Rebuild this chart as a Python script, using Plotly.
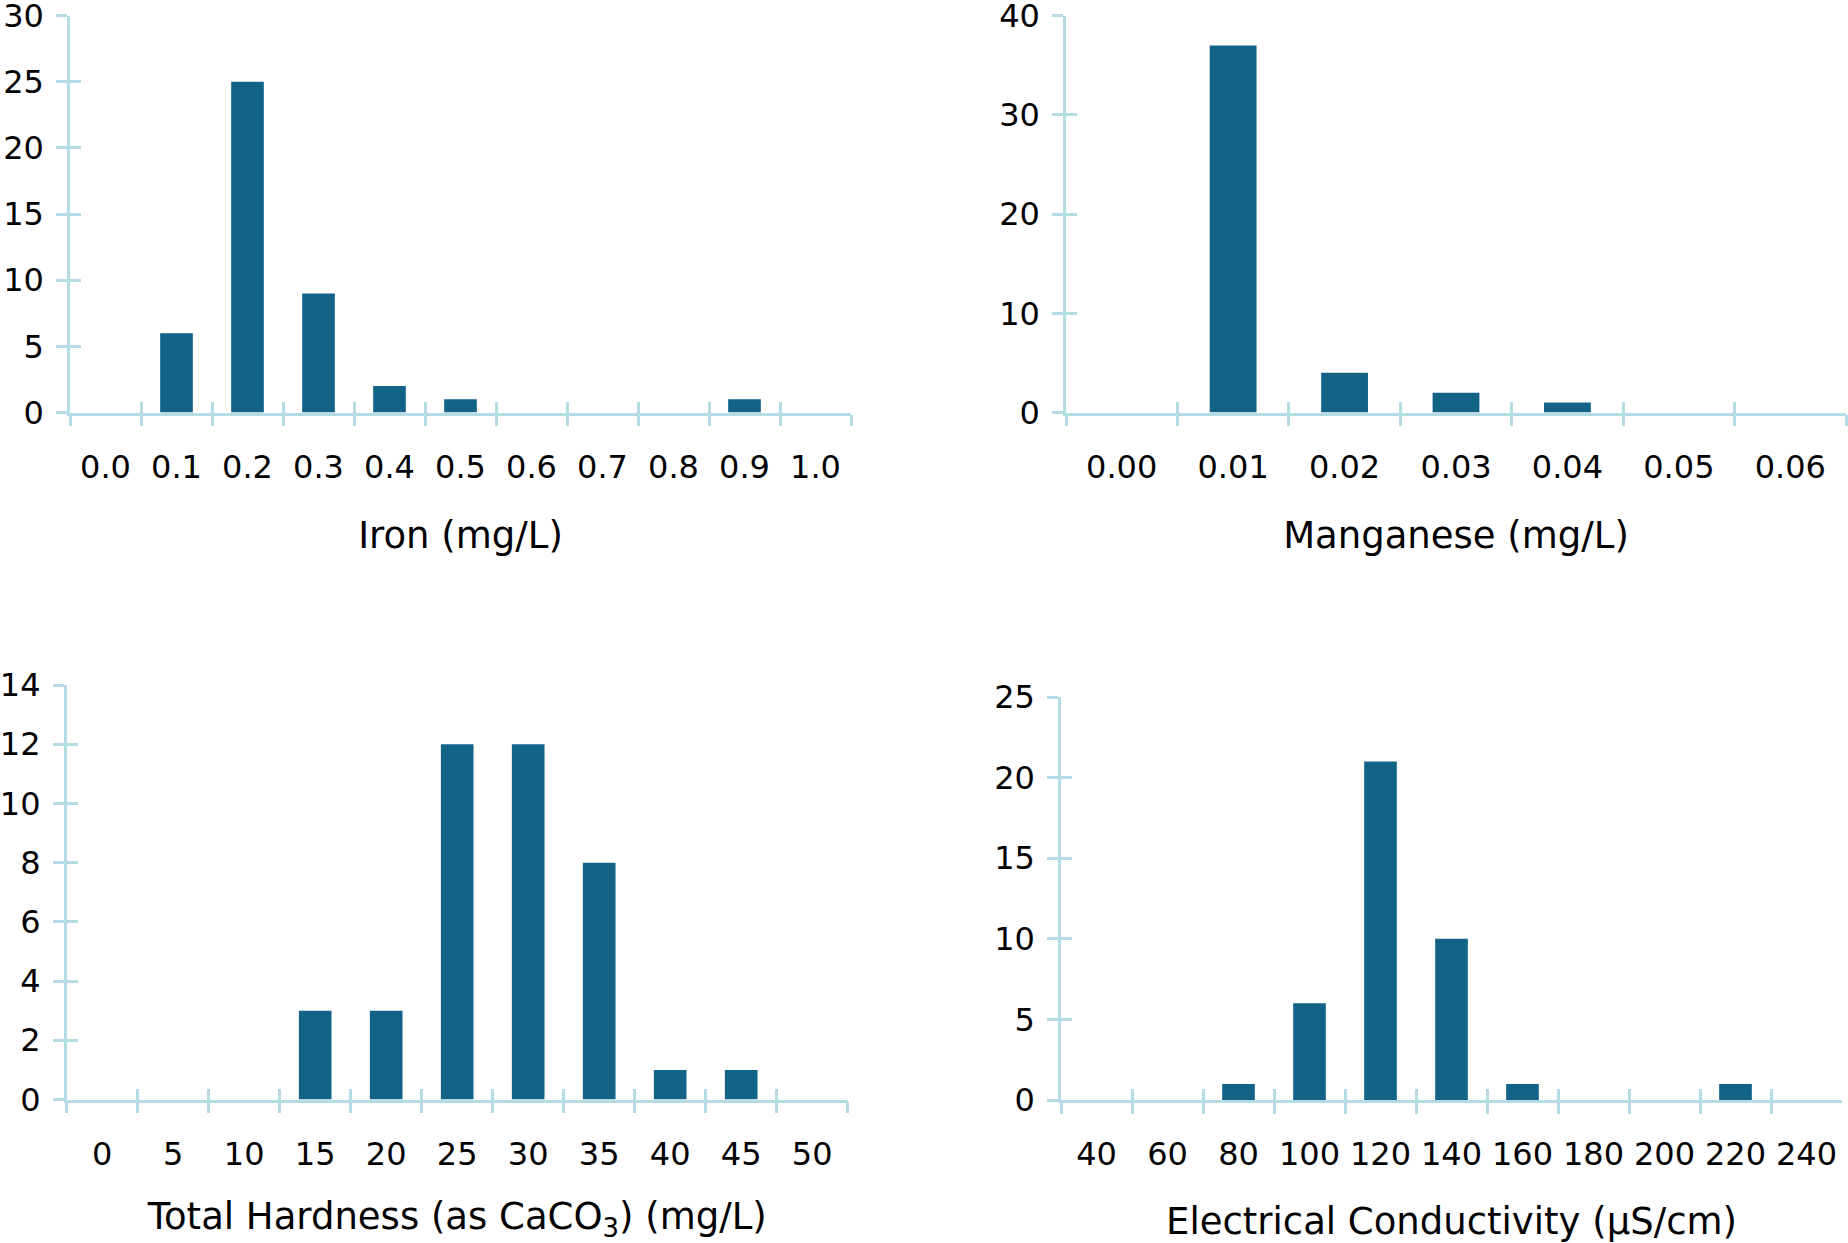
import plotly.graph_objects as go

W, H = 1848, 1243

# ---------------- data ----------------
iron_cats = ["0.0", "0.1", "0.2", "0.3", "0.4", "0.5", "0.6", "0.7", "0.8", "0.9", "1.0"]
iron_counts = [0, 6, 25, 9, 2, 1, 0, 0, 0, 1, 0]
iron_yticks = [0, 5, 10, 15, 20, 25, 30]

mn_cats = ["0.00", "0.01", "0.02", "0.03", "0.04", "0.05", "0.06"]
mn_counts = [0, 37, 4, 2, 1, 0, 0]
mn_yticks = [0, 10, 20, 30, 40]

hard_cats = ["0", "5", "10", "15", "20", "25", "30", "35", "40", "45", "50"]
hard_counts = [0, 0, 0, 3, 3, 12, 12, 8, 1, 1, 0]
hard_yticks = [0, 2, 4, 6, 8, 10, 12, 14]

ec_cats = ["40", "60", "80", "100", "120", "140", "160", "180", "200", "220", "240"]
ec_counts = [0, 0, 1, 6, 21, 10, 1, 0, 0, 1, 0]
ec_yticks = [0, 5, 10, 15, 20, 25]

titles = ["Iron (mg/L)", "Manganese (mg/L)",
          "Total Hardness (as CaCO<sub>3</sub>) (mg/L)", "Electrical Conductivity (µS/cm)"]

# ---------------- style ----------------
BAR = "#136387"
AX = "#B4DCE5"
FONT = "DejaVu Sans"
WEIGHT = 400
TICK_SIZE = 32
TITLE_SIZE = 37
LW = 2.5
TL = 11

panels = [
    dict(cats=iron_cats, counts=iron_counts, yticks=iron_yticks, title=titles[0], bw=0.46,
         box=(70, 851, 15.7, 412.5)),
    dict(cats=mn_cats, counts=mn_counts, yticks=mn_yticks, title=titles[1], bw=0.42,
         box=(1066, 1846, 15.7, 412.5)),
    dict(cats=hard_cats, counts=hard_counts, yticks=hard_yticks, title=titles[2], bw=0.46,
         box=(66.7, 847.7, 685, 1099.5)),
    dict(cats=ec_cats, counts=ec_counts, yticks=ec_yticks, title=titles[3], bw=0.46,
         box=(1061, 1842, 697, 1100)),
]

tickfont = dict(family=FONT, size=TICK_SIZE, color="#000000", weight=WEIGHT)
titlefont = dict(family=FONT, size=TITLE_SIZE, color="#000000", weight=WEIGHT)

fig = go.Figure()
layout = dict(
    width=W, height=H,
    margin=dict(l=0, r=0, t=0, b=0, autoexpand=False),
    paper_bgcolor="white", plot_bgcolor="white",
    showlegend=False,
    font=dict(family=FONT, color="#000000", size=TICK_SIZE, weight=WEIGHT),
)

for i, p in enumerate(panels):
    k = i + 1
    ko = i + 5
    sx = "" if k == 1 else str(k)
    l, r, t, b = p["box"]
    xd = [l / W, r / W]
    yd = [1 - b / H, 1 - t / H]
    n = len(p["cats"])
    ymax = p["yticks"][-1]

    fig.add_trace(go.Bar(x=p["cats"], y=p["counts"], width=p["bw"],
                         marker=dict(color=BAR, line=dict(width=0)),
                         xaxis="x" + sx, yaxis="y" + sx, hoverinfo="x+y"))
    fig.add_trace(go.Scatter(x=[None], y=[None], mode="markers",
                             xaxis="x" + str(ko), yaxis="y" + str(ko), hoverinfo="skip"))

    layout["xaxis" + sx] = dict(
        domain=xd, anchor="y" + sx, type="category",
        categoryorder="array", categoryarray=p["cats"],
        range=[-0.5, n - 0.5], tickson="boundaries",
        ticks="outside", ticklen=TL, tickwidth=LW, tickcolor=AX,
        showline=True, linecolor=AX, linewidth=LW,
        showgrid=False, zeroline=False, fixedrange=True, automargin=False,
        tickfont=tickfont, ticklabelstandoff=24, tickangle=0,
        ticklabeloverflow="allow",
        title=dict(text=p["title"], standoff=38, font=titlefont),
    )
    layout["yaxis" + sx] = dict(
        domain=yd, anchor="x" + sx, range=[0, ymax],
        tickmode="array", tickvals=p["yticks"],
        ticks="outside", ticklen=TL, tickwidth=LW, tickcolor=AX,
        showline=True, linecolor=AX, linewidth=LW,
        showgrid=False, zeroline=False, fixedrange=True, automargin=False,
        tickfont=tickfont, ticklabelstandoff=6, ticklabeloverflow="allow",
    )
    layout["xaxis" + str(ko)] = dict(
        overlaying="x" + sx, anchor="y" + sx, range=[-0.5, n - 0.5],
        tickmode="array", tickvals=[j - 0.5 for j in range(n + 1)],
        ticks="inside", ticklen=TL, tickwidth=LW, tickcolor=AX,
        showticklabels=False, showline=False, showgrid=False, zeroline=False,
        fixedrange=True, automargin=False,
    )
    layout["yaxis" + str(ko)] = dict(
        overlaying="y" + sx, anchor="x" + sx, range=[0, ymax],
        tickmode="array", tickvals=p["yticks"],
        ticks="inside", ticklen=TL, tickwidth=LW, tickcolor=AX,
        showticklabels=False, showline=False, showgrid=False, zeroline=False,
        fixedrange=True, automargin=False,
    )

fig.update_layout(**layout)
fig.write_html("out.html", config={"displayModeBar": False},
               post_script="document.body.style.margin='0px';document.body.style.overflow='hidden';")
